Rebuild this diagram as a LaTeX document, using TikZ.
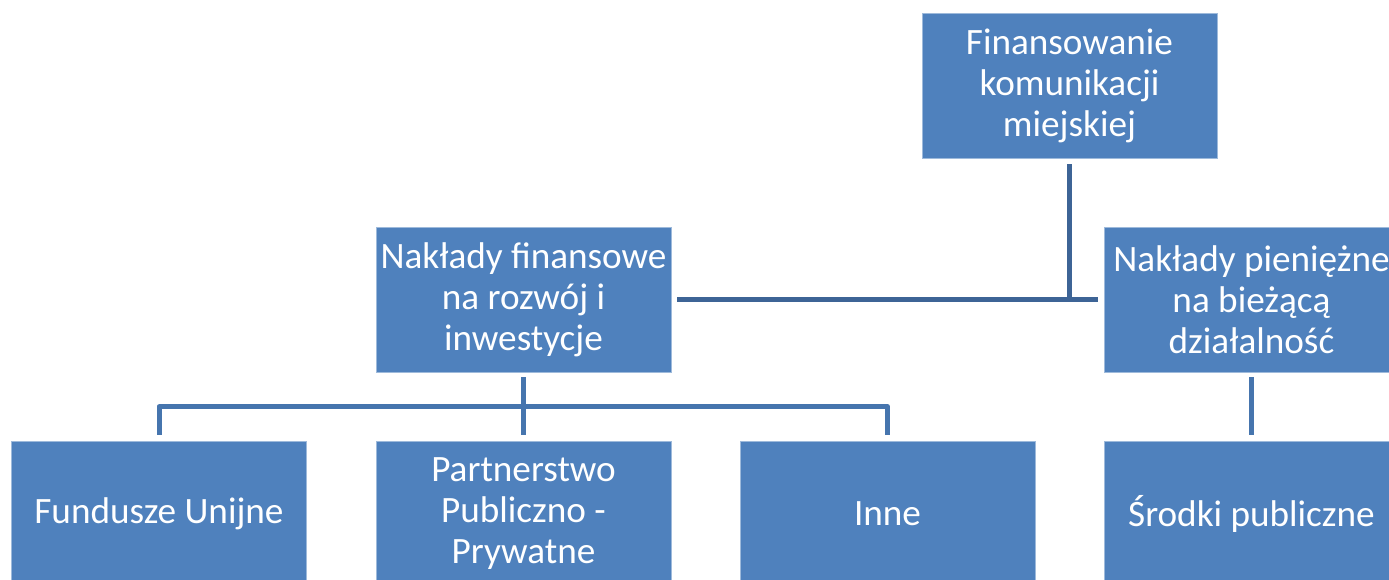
\documentclass[tikz,border=0pt]{standalone}
\usepackage{fontspec}
\setmainfont{Carlito}
\definecolor{boxblue}{HTML}{4F81BD}
\definecolor{linkdark}{HTML}{3D6496}
\definecolor{linkblue}{HTML}{4675AE}
\begin{document}
\begin{tikzpicture}[x=1pt,y=1pt,
    box/.style={draw=boxblue!55!white, line width=0.6pt, fill=boxblue, text=white,
        minimum width=295pt, minimum height=145pt, inner sep=0pt, align=center,
        font=\fontsize{37.2}{41}\selectfont},
    link/.style={line width=5pt, linkblue, line join=round}]
\useasboundingbox (0,0) rectangle (1389,579);
\clip (0,0) rectangle (1389,579);

\node[box] (top)  at (1069.5,493.5) {Finansowanie\\komunikacji\\miejskiej};
\node[box] (lmid) at (523.5,279.5)  {Nakłady finansowe\\na rozwój i\\inwestycje};
\node[box] (rmid) at (1251.5,279.5) {Nakłady pieniężne\\na bieżącą\\działalność};
\foreach \x/\n/\t in {159/b1/{Fundusze Unijne}, 523.5/b2/{Partnerstwo\\Publiczno -\\Prywatne},
    887.5/b3/{Inne}, 1251.5/b4/{Środki publiczne}}{
    \node[box] (\n) at (\x,65.5) {\t};
}

% top level
\draw[link, linkdark] ([xshift=6pt]lmid.east) -- ([xshift=-6pt]rmid.west);
\draw[link, linkdark] ([yshift=-6pt]top.south) -- (top.south |- lmid.east);

% lower level
\coordinate (bar) at ([yshift=-34.5pt]lmid.south);
\draw[link] ([yshift=-5pt]lmid.south) -- ([yshift=6pt]b2.north);
\draw[link] ([yshift=6pt]b1.north) |- (bar) -| ([yshift=6pt]b3.north);
\draw[link] ([yshift=-5pt]rmid.south) -- ([yshift=6pt]b4.north);
\end{tikzpicture}
\end{document}
